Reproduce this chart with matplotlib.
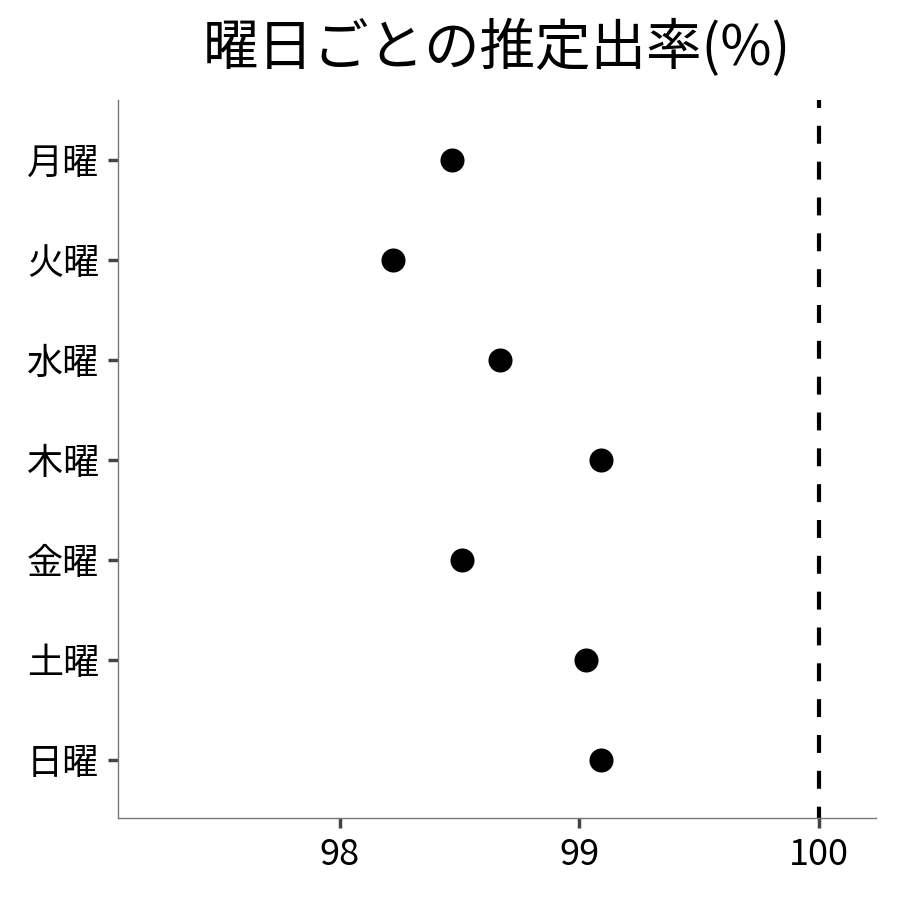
import matplotlib
matplotlib.use("Agg")
import matplotlib.pyplot as plt

plt.rcParams['font.family'] = ['Noto Sans CJK JP', 'DejaVu Sans']

days = ["月曜", "火曜", "水曜", "木曜", "金曜", "土曜", "日曜"]
rates = [98.47, 98.22, 98.67, 99.09, 98.51, 99.03, 99.09]
ref_value = 100
xticks = [98, 99, 100]

fig = plt.figure(figsize=(9, 9), dpi=100)
ax = fig.add_axes([0.131, 0.091, 0.842, 0.798])

ypos = list(range(len(days)))
ax.scatter(rates, ypos, s=300, color='black', zorder=3, linewidths=0)
ax.plot([ref_value, ref_value], [1, 0], transform=ax.get_xaxis_transform(),
        color='black', linestyle=(2.4, (4.3, 4.3)), linewidth=3.0)

ax.set_yticks(ypos)
ax.set_yticklabels(days, fontsize=26)
ax.set_xticks(xticks)
ax.set_xticklabels([str(t) for t in xticks], fontsize=26)
ax.set_xlim(97.073, 100.238)
ax.set_ylim(len(days) - 1 + 0.58, -0.6)

for s in ['top', 'right']:
    ax.spines[s].set_visible(False)
for s in ['left', 'bottom']:
    ax.spines[s].set_color('#777777')
    ax.spines[s].set_linewidth(1.0)
ax.tick_params(axis='both', length=7.5, width=2.5, color='#444444', pad=6)

ax.set_title("曜日ごとの推定出率(%)", fontsize=40, pad=25)

fig.savefig("out.png", dpi=100)
